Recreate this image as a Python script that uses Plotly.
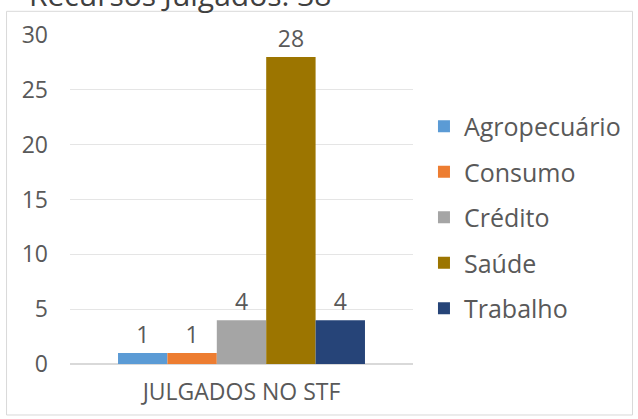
import plotly.graph_objects as go

category = ["JULGADOS NO STF"]
series_names = ["Agropecuário", "Consumo", "Crédito", "Saúde", "Trabalho"]
series_values = [1, 1, 4, 28, 4]
series_colors = ["#5B9BD5", "#ED7D31", "#A5A5A5", "#9C7500", "#264478"]
title_text = "Recursos Julgados: 38"

FONT = "Open Sans"

fig = go.Figure()
for name, val, col in zip(series_names, series_values, series_colors):
    fig.add_trace(go.Bar(
        x=category, y=[val], name=name, marker_color=col,
        marker_line_width=0, legendgroup=name,
        text=[str(val)], textposition="outside", cliponaxis=False,
        textfont=dict(size=23, color="#595959", family=FONT),
    ))

fig.update_layout(
    width=638, height=419,
    margin=dict(l=70, r=223, t=35, b=53),
    paper_bgcolor="white", plot_bgcolor="white",
    barmode="group", bargap=0.28, bargroupgap=0,
    font=dict(family=FONT, color="#595959", size=22),
    showlegend=True,
    legend=dict(x=1.032, y=0.445, yanchor="middle", xanchor="left",
                font=dict(size=25, color="#595959"),
                itemwidth=30, traceorder="grouped", tracegroupgap=10,
                bgcolor="rgba(0,0,0,0)"),
    xaxis=dict(showgrid=False, showline=False, ticks="",
               ticklabelstandoff=12,
               tickfont=dict(size=23, color="#595959")),
    yaxis=dict(range=[0, 30], dtick=5, showgrid=True, gridcolor="#E5E5E5",
               gridwidth=1, zeroline=True, zerolinecolor="#D9D9D9",
               showline=False, ticks="", ticklabelstandoff=21,
               tickfont=dict(size=23, color="#595959")),
    shapes=[dict(type="rect", xref="paper", yref="paper",
                 x0=-0.185, x1=1.64, y0=-0.155, y1=1.072,
                 line=dict(color="#D9D9D9", width=1), layer="below")],
    annotations=[dict(text=title_text, xref="paper", yref="paper",
                      x=-0.125, y=1.054, xanchor="left", yanchor="bottom",
                      showarrow=False,
                      font=dict(size=30, color="#404040", family=FONT))],
)

fig.write_html("out.html")
